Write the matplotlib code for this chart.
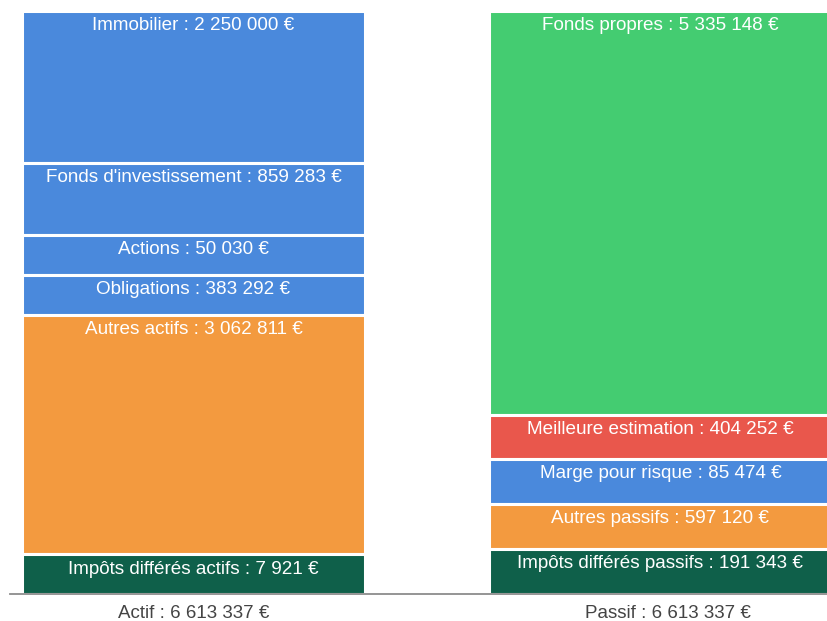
import matplotlib.pyplot as plt
import numpy as np

plt.rcParams['font.family'] = ['Liberation Sans', 'DejaVu Sans']

# Actif side, listed top to bottom
actif_labels = ['Immobilier', "Fonds d'investissement", 'Actions', 'Obligations',
                'Autres actifs', 'Impôts différés actifs']
actif_values = [2250000, 859283, 50030, 383292, 3062811, 7921]
# displayed segment heights (the chart does not draw them proportionally)
actif_shown = [152, 71.5, 40, 40, 239.5, 40]
actif_colors = ['#4a89dc', '#4a89dc', '#4a89dc', '#4a89dc', '#f39a3f', '#0f604a']

# Passif side, listed top to bottom
passif_labels = ['Fonds propres', 'Meilleure estimation', 'Marge pour risque',
                 'Autres passifs', 'Impôts différés passifs']
passif_values = [5335148, 404252, 85474, 597120, 191343]
passif_shown = [403.5, 44, 45, 45.5, 45]
passif_colors = ['#44cc71', '#e9574c', '#4a89dc', '#f39a3f', '#0f604a']

categories = ['Actif', 'Passif']


def fmt(v):
    return f"{v:,}".replace(",", " ") + " €"


W, H = 828, 621
fig = plt.figure(figsize=(W / 100, H / 100), dpi=100)
ax = fig.add_axes([0, (H - 594) / H, 1, 583 / H])

bar_w = 343 / 467
ax.set_xlim(-193.5 / 467, (W - 193.5) / 467)
ax.set_ylim(0, sum(actif_shown))
ax.axis('off')


def draw_stack(x, labels, values, shown, colors):
    shown = np.array(shown, dtype=float)
    tops = np.cumsum(shown[::-1])[::-1]
    bottoms = tops - shown
    ax.bar(x, shown, width=bar_w, bottom=bottoms, color=colors,
           edgecolor='white', linewidth=2.2, clip_on=True)
    for lab, val, top in zip(labels, values, tops):
        ax.annotate(f"{lab} : {fmt(val)}", xy=(x, top), xytext=(0, -15),
                    textcoords='offset pixels', ha='center', va='center',
                    color='white', fontsize=13.6)


draw_stack(0, actif_labels, actif_values, actif_shown, actif_colors)
draw_stack(1, passif_labels, passif_values, passif_shown, passif_colors)

ax.axhline(0, xmin=10 / W, xmax=1, color='#8c8c8c', linewidth=1.3, clip_on=False)

totals = [sum(actif_values), sum(passif_values)]
label_shift = [0, 7]
for x, cat, tot, dx in zip([0, 1], categories, totals, label_shift):
    ax.annotate(f"{cat} : {fmt(tot)}", xy=(x, 0), xytext=(dx, -19),
                textcoords='offset pixels', ha='center', va='center',
                color='#444444', fontsize=13.5, annotation_clip=False)

fig.savefig('out.png', dpi=100)
